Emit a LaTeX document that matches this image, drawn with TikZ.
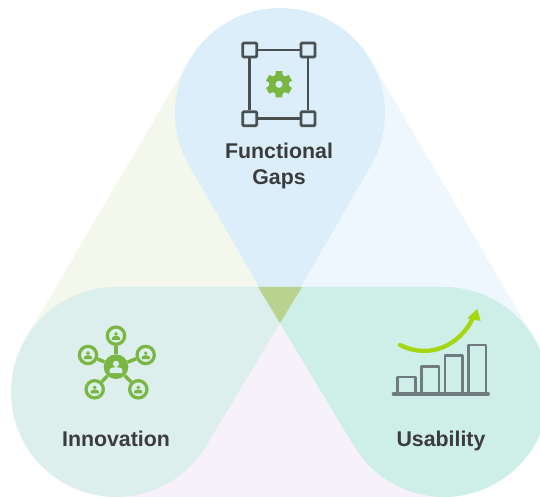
\documentclass[tikz,border=0pt]{standalone}
\usepackage{fontspec}
\usetikzlibrary{calc}
\setmainfont{Liberation Sans}
\definecolor{topblue}{HTML}{DBEEFA}
\definecolor{leftteal}{HTML}{DDEFEC}
\definecolor{rightteal}{HTML}{CDEFE7}
\definecolor{core}{HTML}{B9D28F}
\definecolor{palegreen}{HTML}{F3F7EC}
\definecolor{paleblue}{HTML}{EEF7FD}
\definecolor{palepink}{HTML}{F7F2F9}
\definecolor{iconink}{HTML}{4A5050}
\definecolor{barink}{HTML}{6F7B7E}
\definecolor{icongreen}{HTML}{79B642}
\definecolor{arrowgreen}{HTML}{A5D610}
\definecolor{labelink}{HTML}{3C3C3C}
\tikzset{
  label text/.style={font=\bfseries\fontsize{16}{18}\selectfont,text=labelink,inner sep=0pt,anchor=base},
  frame box/.style={draw=iconink,line width=2pt,fill=topblue,rounded corners=.8pt,minimum size=10.5pt,inner sep=0pt},
  frame edge/.style={draw=iconink,line width=2pt},
  bar box/.style={draw=barink,line width=2.2pt,line join=round},
  spoke/.style={draw=icongreen,line width=2.6pt},
  sat/.style={draw=icongreen,line width=2.4pt,fill=leftteal,circle,minimum size=13pt,inner sep=0pt},
  hub/.style={fill=icongreen,circle,minimum size=18.5pt,inner sep=0pt},
}
% person glyph: #1 position, #2 scale, #3 colour
\newcommand{\persongl}[3]{%
  \begin{scope}[shift={(#1)},scale=#2]
  \fill[#3] (0,1.6) circle[radius=1.7];
  \fill[#3] (-3.6,-3.6) -- (-3.6,-2) .. controls (-3.6,-.8) and (-1.6,-.2) .. (0,-.2) .. controls (1.6,-.2) and (3.6,-.8) .. (3.6,-2) -- (3.6,-3.6) -- cycle;
  \end{scope}
}
\begin{document}
\begin{tikzpicture}[x=.75pt,y=.75pt]
\useasboundingbox (0,0) rectangle (540,497);
\clip (0,0) rectangle (540,497);
\coordinate (ctop) at (280,384);
\coordinate (cleft) at (116,105);
\coordinate (cright) at (444,105);
\coordinate (mid) at (280,195);
% pale sectors
\fill[palegreen] ($(ctop)+(149.5:105)$) -- ($(cleft)+(149.5:105)$) -- (mid) -- cycle;
\fill[paleblue] ($(ctop)+(30.5:105)$) -- ($(cright)+(30.5:105)$) -- (mid) -- cycle;
\fill[palepink] (116,0) -- (444,0) -- (mid) -- cycle;
% teardrops
\fill[topblue] (280,174) -- ($(ctop)+(-30:105)$) arc[start angle=-30,end angle=210,radius=105] -- cycle;
\fill[leftteal] (302,210) -- ($(cleft)+(-31.1:105)$) arc[start angle=-31.1,end angle=-270,radius=105] -- cycle;
\fill[rightteal] (258,210) -- ($(cright)+(211.1:105)$) arc[start angle=211.1,end angle=450,radius=105] -- cycle;
\fill[core] (258,210) -- (302,210) -- (280,174) -- cycle;
% frame icon
\node[frame box] (fa) at (249.7,447) {};
\node[frame box] (fb) at (308,447) {};
\node[frame box] (fc) at (249.7,378.3) {};
\node[frame box] (fd) at (308,378.3) {};
\draw[frame edge] (fa) -- (fb);
\draw[frame edge] (fb) -- (fd);
\draw[frame edge] (fd) -- (fc);
\draw[frame edge] (fc) -- (fa);
% gear
\coordinate (gear) at (279,412.7);
\fill[icongreen,even odd rule]
  ($(gear)+(104:13.5)$)
  \foreach \a in {90,30,-30,-90,-150,-210}{
    -- ($(gear)+(\a+14:13.5)$) -- ($(gear)+(\a-14:13.5)$)
    -- ($(gear)+(\a-21:10)$) -- ($(gear)+(\a-39:10)$)
  } -- cycle
  (gear) circle[radius=3.7];
% network icon
\node[sat] (s1) at (116,161.3) {};
\node[sat] (s2) at (88,142) {};
\node[sat] (s3) at (145.7,142) {};
\node[sat] (s4) at (94.7,107.7) {};
\node[sat] (s5) at (138.3,107.7) {};
\node[hub] (h) at (116,130.3) {};
\draw[spoke] (h) -- (s1);
\draw[spoke] (h) -- (s2);
\draw[spoke] (h) -- (s3);
\draw[spoke] (h) -- (s4);
\draw[spoke] (h) -- (s5);
\persongl{h}{1.8}{leftteal}
\persongl{s1}{1.15}{icongreen}
\persongl{s2}{1.15}{icongreen}
\persongl{s3}{1.15}{icongreen}
\persongl{s4}{1.15}{icongreen}
\persongl{s5}{1.15}{icongreen}
% bars
\draw[bar box] (397.7,103) rectangle (415.3,120);
\draw[bar box] (421.7,103) rectangle (439,130.7);
\draw[bar box] (445,103) rectangle (462.3,141.3);
\draw[bar box] (468.7,103) rectangle (486,152);
\coordinate (basea) at (393.3,103);
\coordinate (baseb) at (488.3,103);
\draw[barink,line width=2.4pt,line cap=round] (basea) -- (baseb);
% arrow
\coordinate (arra) at (400,152);
\coordinate (arrb) at (473,179);
\draw[arrowgreen,line width=3.2pt,line cap=round] (arra) .. controls (430,137) and (460,152) .. (arrb);
\fill[arrowgreen] (477.3,188) -- (467.3,178.7) -- (480.7,176) -- cycle;
% labels
\node[label text] (t1) at (279,338) {Functional};
\node[label text] (t2) at (279,312) {Gaps};
\node[label text] (t3) at (116,50) {Innovation};
\node[label text] (t4) at (441,50) {Usability};
\end{tikzpicture}
\end{document}
